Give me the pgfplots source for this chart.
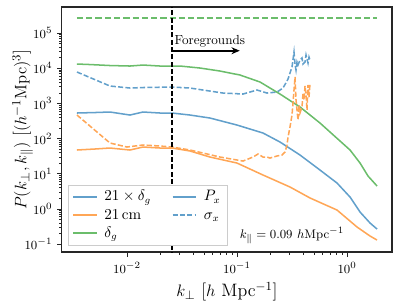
\documentclass[border=0pt]{standalone}
\usepackage{pgfplots}
\pgfplotsset{compat=1.18}
\usetikzlibrary{arrows.meta}
\definecolor{myblue}{RGB}{98,160,203}
\definecolor{myorange}{RGB}{255,166,86}
\definecolor{mygreen}{RGB}{107,189,107}
\newcommand{\lstrut}{\rule[-3.2pt]{0pt}{10.8pt}}
\begin{document}
\begin{tikzpicture}
\useasboundingbox (-44.8pt,-34.7pt) rectangle (243.8pt,182.3pt);
\begin{axis}[
  at={(0,0)}, anchor=south west,
  scale only axis, width=238.7pt, height=177.2pt,
  xmode=log, ymode=log,
  xmin=0.002564, xmax=2.56, ymin=0.0593, ymax=5.48e5,
  ytick={1e-1,1,10,100,1e3,1e4,1e5},
  xtick={1e-2,1e-1,1},
  tick align=outside, tick pos=left,
  axis line style={black!85, line width=0.8pt},
  major tick length=3.5pt, minor tick length=2pt,
  every tick/.style={black!85},
  tick label style={font=\fontsize{9.5}{11}\selectfont},
  label style={font=\fontsize{13}{15}\selectfont},
  xlabel={$k_\perp$ [$h$ Mpc$^{-1}$]},
  ylabel={$P(k_\perp,k_\parallel)$ [$(h^{-1}\mathrm{Mpc})^3$]},
  ylabel style={yshift=-13pt},
  legend columns=2,
  legend style={at={(0.018,0.275)}, anchor=north west, draw=black!20, fill=white,
    font=\fontsize{10.5}{12}\selectfont},
  legend cell align=left,
  every axis plot/.append style={line width=1.1pt},
]
% 21 x delta_g
\addplot[myblue] coordinates {
(0.003512,532) (0.005118,549) (0.007008,568) (0.01065,466) (0.01398,568) (0.01995,532)
(0.02566,532) (0.03739,466) (0.05682,383) (0.1,242) (0.1724,143.5) (0.246,79.6)
(0.3739,34.0) (0.5682,12.7) (0.8111,5.43) (1.065,2.17) (1.313,0.813) (1.619,0.396) (1.874,0.267)};
\addlegendentry{\rule{3pt}{0pt}\lstrut$21\times\delta_g$\rule{13pt}{0pt}}
\addlegendimage{myblue, line width=1.1pt}
\addlegendentry{\rule{3pt}{0pt}\lstrut$P_x$}
% 21cm
\addplot[myorange] coordinates {
(0.003512,47.2) (0.005118,50.4) (0.007008,53.8) (0.01065,47.2) (0.01398,57.4) (0.01995,53.8)
(0.02566,53.8) (0.03739,44.2) (0.05682,29.8) (0.1,20.1) (0.1724,9.17) (0.3032,4.19)
(0.4610,2.04) (0.8111,0.927) (1.233,0.305) (1.619,0.169) (1.874,0.130)};
\addlegendentry{\rule{3pt}{0pt}\lstrut$21\,\mathrm{cm}$}
% sigma_x (blue dashed)
\addplot[myblue, dash pattern=on 3.7pt off 1.6pt] coordinates {
(0.003512,7787) (0.007008,3112) (0.01065,2731) (0.01398,2823) (0.02566,2915) (0.03739,2731)
(0.04909,2396) (0.07459,1968) (0.1134,1843) (0.1520,2396) (0.1874,1968) (0.2310,2101)
(0.2620,2731) (0.2909,4925) (0.3162,1.079e4) (0.3297,2.88e4) (0.3368,1.314e4) (0.3439,8870)
(0.3511,1.5e4) (0.3585,1.23e4) (0.3739,1.71e4) (0.3899,1.95e4) (0.3981,1.314e4) (0.4152,1.5e4)
(0.4240,2.37e4) (0.4329,1.82e4) (0.4420,1.40e4) (0.4514,2.08e4) (0.4610,1.71e4)};
\addlegendentry{\rule{3pt}{0pt}\lstrut$\sigma_x$}
% delta_g
\addplot[mygreen] coordinates {
(0.003512,1.314e4) (0.004613,1.271e4) (0.007008,1.191e4) (0.01065,1.153e4) (0.01398,1.230e4)
(0.01995,1.153e4) (0.02566,1.153e4) (0.03032,1.153e4) (0.0461,1.011e4) (0.07006,8310)
(0.1065,6398) (0.1619,4047) (0.246,1843) (0.3739,787) (0.5682,276) (0.8638,85)
(1.065,47.2) (1.313,20.1) (1.552,8.59) (1.874,4.47)};
\addlegendentry{\rule{3pt}{0pt}\lstrut$\delta_g$}
% delta_g noise (green dashed)
\addplot[mygreen, dash pattern=on 4.5pt off 2.2pt, forget plot] coordinates {(0.003512,2.67e5) (1.874,2.67e5)};
% orange dashed
\addplot[myorange, dash pattern=on 3.7pt off 1.6pt, forget plot] coordinates {
(0.003512,466) (0.007008,74.6) (0.01,57.4) (0.01398,65.5) (0.01995,61.3) (0.02566,57.4)
(0.03739,47.2) (0.04909,38.8) (0.07006,29.8) (0.1134,22.9) (0.1398,29.8) (0.1553,36.3)
(0.1724,29.8) (0.1874,29.8) (0.1995,27.9) (0.2310,31.9) (0.2566,34.0) (0.2732,41.4)
(0.2848,65.5) (0.2909,110.4) (0.3032,212) (0.3162,466) (0.3229,1022) (0.3297,2396)
(0.3368,5613) (0.3439,1244) (0.3511,647) (0.3585,336) (0.3661,897) (0.3739,532)
(0.3899,787) (0.3981,1968) (0.4065,1244) (0.4152,3112) (0.4240,1728) (0.4329,647)
(0.4420,3323) (0.4514,1514) (0.4610,3788)};
% foreground line
\addplot[black, line width=1.1pt, dash pattern=on 3.7pt off 1.6pt, forget plot] coordinates {(0.02566,0.01) (0.02566,1e6)};
\draw[black, line width=1.5pt, -{Stealth[length=6pt,width=5pt]}] (axis cs:0.02566,3.14e4) -- (axis cs:0.106,3.14e4);
\node[anchor=south west, inner sep=1pt, font=\fontsize{9.5}{11}\selectfont] at (axis cs:0.0262,3.5e4) {Foregrounds};
\node[font=\fontsize{9.5}{11}\selectfont] at (rel axis cs:0.697,0.068) {$k_\parallel = 0.09\ h\mathrm{Mpc}^{-1}$};
\end{axis}
\end{tikzpicture}
\end{document}
